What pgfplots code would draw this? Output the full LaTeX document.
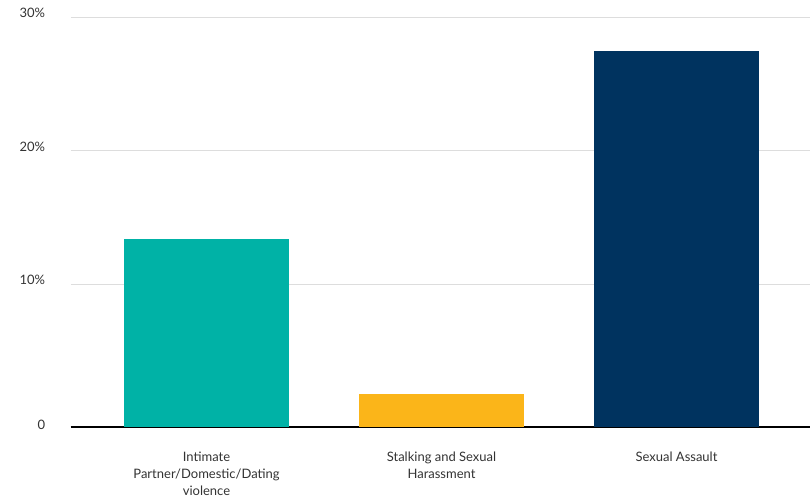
\documentclass[border=0pt]{standalone}
\usepackage{pgfplots}
\pgfplotsset{compat=1.18}
\usepackage{fontspec}
\setmainfont{Lato}
\definecolor{teal1}{HTML}{00B2A6}
\definecolor{gold1}{HTML}{FBB519}
\definecolor{navy1}{HTML}{00335F}
\definecolor{txt}{HTML}{333333}
\definecolor{gridc}{HTML}{DDDDDD}
\begin{document}
\begin{tikzpicture}[x=1pt,y=1pt]
% grid lines and percentage labels
\begin{axis}[
  at={(70.7pt,74pt)}, anchor=south west,
  scale only axis, width=739.3pt, height=409.7pt,
  xmin=-0.578, xmax=2.568, ymin=-0.689, ymax=30,
  axis x line=none, axis y line*=left,
  y axis line style={draw=none},
  ytick style={draw=none},
  ytick={10,20,30},
  yticklabels={10\%,20\%,30\%},
  yticklabel style={font=\fontsize{13}{15}\selectfont, text=txt, anchor=east, xshift=-22pt, yshift=4pt},
  ymajorgrids, grid style={gridc, line width=1.4pt},
  clip=false,
]
\end{axis}
% bars and baseline
\begin{axis}[
  at={(70.7pt,74pt)}, anchor=south west,
  scale only axis, width=739.3pt, height=409.7pt,
  xmin=-0.578, xmax=2.568, ymin=0, ymax=30,
  axis x line*=bottom, axis y line*=left,
  x axis line style={black, line width=1.5pt, -},
  y axis line style={draw=none},
  xtick={0,1,2}, xtick style={draw=none}, ytick style={draw=none},
  xticklabels={{Intimate\\Partner/Domestic/Dating\\violence},{Stalking and Sexual\\Harassment},{Sexual Assault}},
  xticklabel style={align=center, font=\fontsize{13}{17}\selectfont, text=txt, anchor=north, yshift=-21pt},
  ytick={0}, yticklabels={0},
  yticklabel style={font=\fontsize{13}{15}\selectfont, text=txt, anchor=east, xshift=-22pt, yshift=2pt},
  clip=false,
]
\addplot[ybar, bar width=165pt, bar shift=0pt, draw=none, fill=teal1] coordinates {(0,13.8)};
\addplot[ybar, bar width=165pt, bar shift=0pt, draw=none, fill=gold1] coordinates {(1,2.4)};
\addplot[ybar, bar width=165pt, bar shift=0pt, draw=none, fill=navy1] coordinates {(2,27.5)};
\end{axis}
\pgfresetboundingbox
\useasboundingbox (0,0) rectangle (810,501);
\end{tikzpicture}
\end{document}
